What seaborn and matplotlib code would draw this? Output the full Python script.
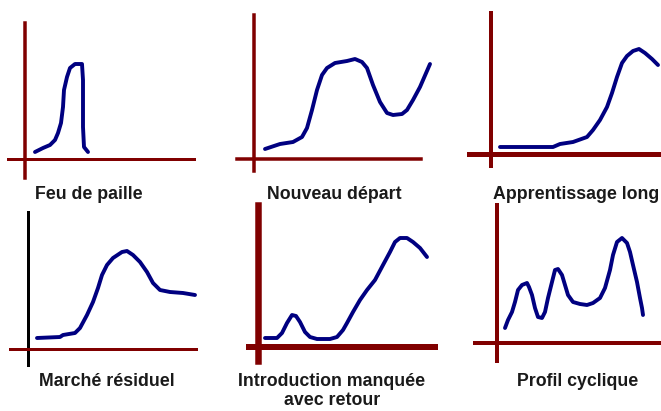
import matplotlib
matplotlib.use("Agg")
import matplotlib.pyplot as plt
import seaborn as sns

sns.set_style("white")
plt.rcParams['font.family'] = ['Liberation Sans', 'DejaVu Sans']

feu_x = [10, 18, 25, 30, 33, 36, 38, 39, 42, 45, 50, 57, 58, 58, 58, 59, 63]
feu_y = [7, 11, 14, 19, 26, 36, 52, 69, 82, 91, 95, 95, 79, 62, 32, 12, 7]

nouveau_x = [11, 26, 39, 48, 53, 58, 63, 68, 73, 81, 93, 101, 108, 113, 119, 126, 133, 139, 148, 153, 159, 166, 176]
nouveau_y = [10, 15, 17, 22, 31, 49, 69, 84, 91, 96, 98, 100, 97, 91, 74, 57, 46, 44, 45, 49, 59, 72, 95]

appr_x = [9, 62, 69, 82, 96, 102, 109, 116, 121, 126, 131, 136, 142, 148, 154, 161, 167]
appr_y = [7, 7, 10, 12, 17, 24, 34, 47, 61, 77, 91, 98, 103, 105, 101, 95, 89]

marche_x = [9, 32, 35, 47, 52, 59, 65, 70, 74, 79, 85, 94, 99, 105, 112, 119, 125, 132, 142, 155, 167]
marche_y = [11, 12, 14, 16, 21, 34, 47, 61, 74, 84, 91, 97, 98, 94, 87, 77, 66, 59, 57, 56, 54]

intro_x = [7, 19, 24, 29, 34, 38, 42, 47, 52, 59, 72, 79, 85, 89, 95, 102, 109, 117, 125, 132, 137, 142, 149, 155, 162, 169]
intro_y = [9, 9, 14, 24, 32, 31, 25, 15, 10, 8, 8, 10, 17, 24, 35, 47, 57, 67, 82, 95, 105, 109, 109, 105, 99, 90]

cycl_x = [8, 11, 15, 18, 21, 25, 30, 32, 35, 38, 41, 45, 48, 51, 55, 58, 61, 65, 68, 71, 76, 83, 90,
          96, 103, 108, 113, 116, 120, 125, 130, 133, 136, 140, 143, 145, 146]
cycl_y = [15, 23, 31, 41, 53, 58, 60, 56, 48, 35, 26, 25, 31, 45, 61, 73, 74, 68, 58, 48, 41, 39, 38,
          40, 45, 55, 73, 88, 101, 105, 100, 91, 78, 61, 45, 35, 28]

titles = ["Feu de paille", "Nouveau départ", "Apprentissage long",
          "Marché résiduel", "Introduction manquée\navec retour", "Profil cyclique"]

W, H = 661, 411
RED = "#800000"
NAVY = "#000080"

# layout in pixels: horizontal axis extent, vertical axis extent, origin, axis widths (px), vertical axis colour
panels = [
    dict(x=feu_x, y=feu_y, hx=(8, 194), vy=(23, 178), o=(25, 159), lw=(3.5, 3), vc=RED, t=(89, 194)),
    dict(x=nouveau_x, y=nouveau_y, hx=(237, 421), vy=(15, 171), o=(254, 159), lw=(3.5, 3.5), vc=RED, t=(334, 194)),
    dict(x=appr_x, y=appr_y, hx=(469, 661), vy=(13, 166), o=(491, 154), lw=(4, 5), vc=RED, t=(576, 194)),
    dict(x=marche_x, y=marche_y, hx=(10, 196), vy=(212, 365), o=(28, 349), lw=(3, 3), vc="black", t=(107, 381)),
    dict(x=intro_x, y=intro_y, hx=(249, 435), vy=(205, 361), o=(258, 347), lw=(6.5, 6), vc=RED, t=(332, 391)),
    dict(x=cycl_x, y=cycl_y, hx=(475, 661), vy=(205, 361), o=(497, 343), lw=(4, 4), vc=RED, t=(578, 381)),
]

fig = plt.figure(figsize=(W / 100, H / 100), dpi=100)

for p, title in zip(panels, titles):
    (x0, x1), (y0, y1), (ox, oy) = p['hx'], p['vy'], p['o']
    ax = fig.add_axes([x0 / W, 1 - y1 / H, (x1 - x0) / W, (y1 - y0) / H])
    ax.set_xlim(x0 - ox, x1 - ox)
    ax.set_ylim(oy - y1, oy - y0)
    sns.lineplot(x=p['x'], y=p['y'], ax=ax, color=NAVY, lw=2.8, sort=False,
                 estimator=None, solid_joinstyle='round', solid_capstyle='round')
    for side in ['top', 'right']:
        ax.spines[side].set_visible(False)
    ax.spines['left'].set_position(('data', 0))
    ax.spines['bottom'].set_position(('data', 0))
    ax.spines['left'].set_color(p['vc'])
    ax.spines['bottom'].set_color(RED)
    ax.spines['left'].set_linewidth(p['lw'][0] * 0.72)
    ax.spines['bottom'].set_linewidth(p['lw'][1] * 0.72)
    ax.spines['left'].set_zorder(1)
    ax.spines['bottom'].set_zorder(1)
    ax.set_xticks([])
    ax.set_yticks([])
    ax.patch.set_visible(False)
    for line in ax.lines:
        line.set_clip_on(False)
    fig.text(p['t'][0] / W, 1 - p['t'][1] / H, title, ha='center', va='center',
             fontsize=12.8, fontweight='bold', color='#1a1a1a', linespacing=1.15)

plt.savefig("out.png", dpi=100)
